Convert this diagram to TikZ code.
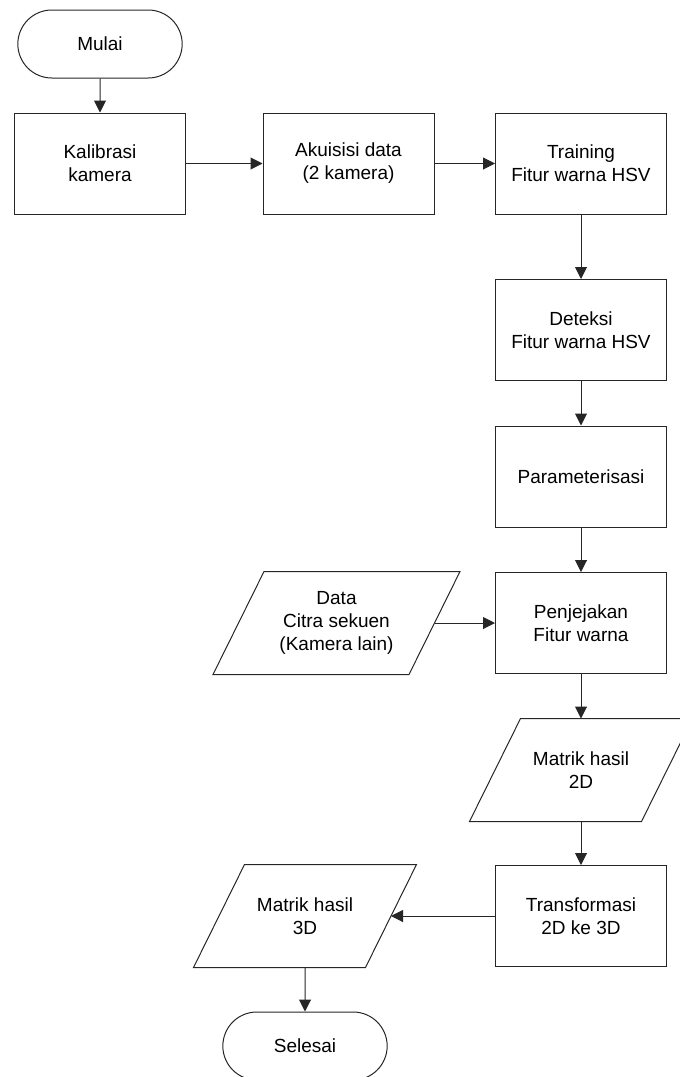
\documentclass[tikz,border=0pt]{standalone}
\usepackage{fontspec}
\setmainfont{Liberation Sans}
\usetikzlibrary{shapes.misc, arrows.meta}

\begin{document}
\begin{tikzpicture}[x=1pt, y=-1pt, line width=1pt, font=\fontsize{19}{23}\selectfont,
                box/.style={draw=black!85, rectangle, minimum width=171pt, minimum height=101pt, align=center},
                term/.style={draw=black!85, rounded rectangle, minimum width=171pt, minimum height=68pt},
                io/.style={rectangle, minimum width=171pt, minimum height=102pt, align=center},
                arr/.style={draw=black!85, -{Triangle[length=12pt, width=12pt]}}]
                \useasboundingbox (0,0) rectangle (680,1077);
                \node [term] (mulai) at (100,44) {Mulai};
                \node [box] (kalib) at (100,163.5) {Kalibrasi\\kamera};
                \node [box] (akuisisi) at (348.5,163.5) {Akuisisi data\\(2 kamera)};
                \node [box] (training) at (581,163.5) {Training\\Fitur warna HSV};
                \node [box] (deteksi) at (581,330) {Deteksi\\Fitur warna HSV};
                \node [box] (param) at (581,476.5) {Parameterisasi};
                \node [box] (penjejakan) at (581,623) {Penjejakan\\Fitur warna};
                \node [io, minimum width=195pt] (citra) at (336.5,623) {Data\\Citra sekuen\\(Kamera lain)};
                \node [io] (hasil2d) at (581,770) {Matrik hasil\\2D};
                \node [box] (transf) at (581,916) {Transformasi\\2D ke 3D};
                \node [io] (hasil3d) at (305,916) {Matrik hasil\\3D};
                \node [term] (selesai) at (305,1046) {Selesai};
                % bentuk jajar genjang untuk data
                \foreach \n in {citra, hasil2d, hasil3d}
                    \draw [black!85] ([xshift=25.5pt]\n.north west) -- ([xshift=25.5pt]\n.north east)
                        -- ([xshift=-25.5pt]\n.south east) -- ([xshift=-25.5pt]\n.south west) -- cycle;
                % alur proses
                \draw [arr] (mulai) -- (kalib);
                \draw [arr] (kalib) -- (akuisisi);
                \draw [arr] (akuisisi) -- (training);
                \draw [arr] (training) -- (deteksi);
                \draw [arr] (deteksi) -- (param);
                \draw [arr] (param) -- (penjejakan);
                \draw [arr] (citra) -- (penjejakan);
                \draw [arr] (penjejakan) -- (hasil2d);
                \draw [arr] (hasil2d) -- (transf);
                \draw [arr] (transf) -- (hasil3d);
                \draw [arr] (hasil3d) -- (selesai);
            \end{tikzpicture}
\end{document}
